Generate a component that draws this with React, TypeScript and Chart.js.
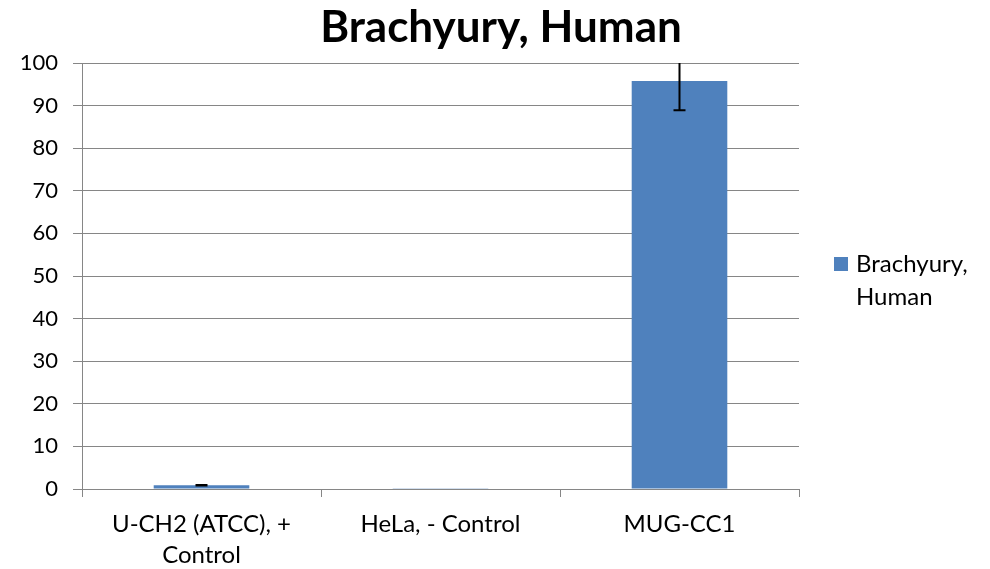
import React, { useEffect, useRef } from "react";
import { Chart, registerables } from "chart.js";

Chart.register(...registerables);

const TITLE = "Brachyury, Human";
const SERIES_LABEL = "Brachyury, Human";
const CATEGORIES: (string | string[])[] = [["U-CH2 (ATCC), +", "Control"], "HeLa, - Control", "MUG-CC1"];
const VALUES = [0.9, 0.05, 95.8];
const ERRORS = [0.05, 0.0, 6.9];
const Y_MIN = 0;
const Y_MAX = 100;
const Y_STEP = 10;

const FONT = "Lato, 'Open Sans', sans-serif";
const BAR_COLOR = "#4f81bd";
const GRID_COLOR = "#868686";

const errorBarPlugin = {
  id: "errorBars",
  afterDatasetsDraw(chart: any) {
    const { ctx, chartArea } = chart;
    const meta = chart.getDatasetMeta(0);
    const y = chart.scales.y;
    ctx.save();
    ctx.beginPath();
    ctx.rect(chartArea.left, chartArea.top, chartArea.right - chartArea.left, chartArea.bottom - chartArea.top);
    ctx.clip();
    ctx.strokeStyle = "#000";
    ctx.lineWidth = 2;
    meta.data.forEach((bar: any, i: number) => {
      const err = ERRORS[i];
      if (!err) return;
      const v = VALUES[i];
      const yTop = y.getPixelForValue(v + err);
      const yBot = y.getPixelForValue(v - err);
      const x = bar.x;
      const cap = 6;
      ctx.beginPath();
      ctx.moveTo(x, yTop);
      ctx.lineTo(x, yBot);
      ctx.moveTo(x - cap, yTop);
      ctx.lineTo(x + cap, yTop);
      ctx.moveTo(x - cap, yBot);
      ctx.lineTo(x + cap, yBot);
      ctx.stroke();
    });
    ctx.restore();
  },
};

const titleLegendPlugin = {
  id: "titleLegend",
  afterDraw(chart: any) {
    const { ctx } = chart;
    ctx.save();
    ctx.fillStyle = "#000";
    ctx.font = `bold 44px ${FONT}`;
    ctx.textAlign = "center";
    ctx.textBaseline = "middle";
    ctx.fillText(TITLE, 501, 28);

    // legend
    const label = chart.data.datasets[0].label as string;
    ctx.font = `24px ${FONT}`;
    const words = label.split(" ");
    const lines: string[] = [];
    let cur = "";
    const maxW = 125;
    words.forEach((w) => {
      const test = cur ? cur + " " + w : w;
      if (ctx.measureText(test).width > maxW && cur) {
        lines.push(cur);
        cur = w;
      } else cur = test;
    });
    if (cur) lines.push(cur);
    ctx.fillStyle = BAR_COLOR;
    ctx.fillRect(834, 257, 14, 14);
    ctx.fillStyle = "#000";
    ctx.textAlign = "left";
    lines.forEach((ln, i) => ctx.fillText(ln, 856, 264 + i * 33));
    ctx.restore();
  },
};

export default function App() {
  const ref = useRef<HTMLCanvasElement | null>(null);
  useEffect(() => {
    if (!ref.current) return;
    const chart = new Chart(ref.current, {
      type: "bar",
      data: {
        labels: CATEGORIES,
        datasets: [
          {
            label: SERIES_LABEL,
            data: VALUES,
            backgroundColor: BAR_COLOR,
            borderWidth: 0,
            barPercentage: 0.4,
            categoryPercentage: 1,
          },
        ],
      },
      options: {
        responsive: false,
        animation: false,
        layout: { padding: { top: 63, right: 191, left: 0, bottom: 0 } },
        plugins: {
          legend: { display: false },
          title: { display: false },
          tooltip: { enabled: false },
        },
        scales: {
          x: {
            afterFit: (s: any) => {
              s.height = 80;
            },
            grid: {
              display: true,
              drawOnChartArea: false,
              drawTicks: true,
              tickLength: 8,
              color: GRID_COLOR,
              offset: true,
            },
            border: { display: true, color: GRID_COLOR, width: 1 },
            ticks: {
              color: "#000",
              font: { family: FONT, size: 24, lineHeight: 1.29 },
              padding: 12,
              maxRotation: 0,
              minRotation: 0,
              autoSkip: false,
            },
          },
          y: {
            min: Y_MIN,
            max: Y_MAX,
            afterFit: (s: any) => {
              s.width = 82;
            },
            grid: {
              color: GRID_COLOR,
              lineWidth: 1,
              drawTicks: true,
              tickLength: 9,
            },
            border: { display: true, color: GRID_COLOR, width: 1 },
            ticks: {
              stepSize: Y_STEP,
              color: "#000",
              font: { family: FONT, size: 22 },
              padding: 15,
            },
          },
        },
      },
      plugins: [errorBarPlugin, titleLegendPlugin],
    });
    return () => chart.destroy();
  }, []);
  return (
    <div style={{ position: "fixed", left: 0, top: 0, width: 990, height: 569, background: "#fff" }}>
      <canvas ref={ref} width={990} height={569} style={{ display: "block" }} />
    </div>
  );
}
